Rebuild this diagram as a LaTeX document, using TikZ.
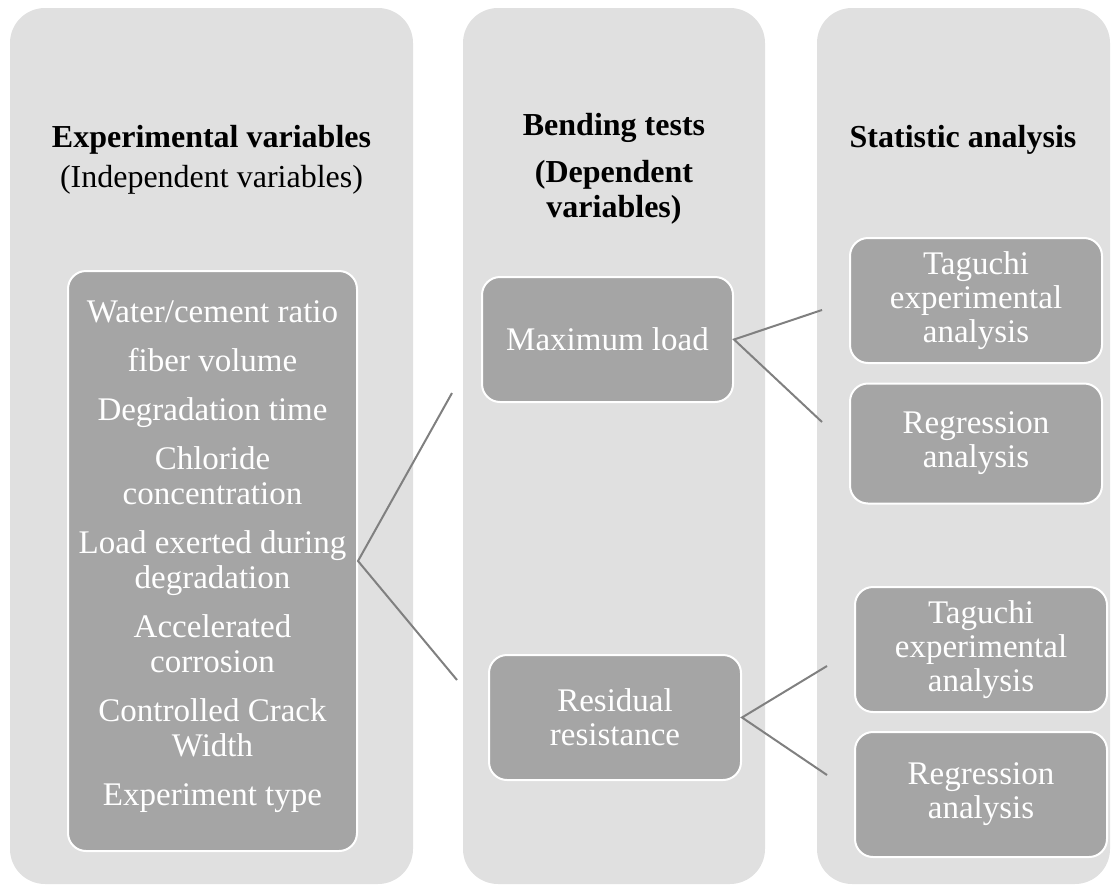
\documentclass[tikz,border=0pt]{standalone}
\usepackage{fontspec}
\setmainfont{Liberation Serif}
\definecolor{colbg}{HTML}{E0E0E0}
\definecolor{boxbg}{HTML}{A5A5A5}
\definecolor{linegray}{HTML}{808080}
\tikzset{
  col/.style={fill=colbg, draw=none, rounded corners=35pt, inner sep=0pt},
  box/.style={draw=white, line width=2pt, fill=boxbg, rounded corners=18pt, text=white,
    align=center, inner sep=0pt, font=\fontsize{33}{34}\selectfont},
  head/.style={align=center, text=black, inner sep=0pt},
  link/.style={draw=linegray, line width=2pt}
}
\begin{document}
\begin{tikzpicture}[x=1pt,y=-1pt]
\useasboundingbox (0,0) rectangle (1111,889);
% columns
\node[col, minimum width=403pt, minimum height=876pt] (c1) at (211.5,446) {};
\node[col, minimum width=302pt, minimum height=876pt] (c2) at (614,446) {};
\node[col, minimum width=293pt, minimum height=876pt] (c3) at (963.5,446) {};
% headings
\node[head, font=\fontsize{32}{40}\selectfont] (h1) at (211.5,159.5) {\textbf{Experimental variables}\\(Independent variables)};
\node[head, font=\bfseries\fontsize{32}{35}\selectfont] (h2) at (614,169) {Bending tests\\[12pt](Dependent\\variables)};
\node[head, font=\bfseries\fontsize{32}{33}\selectfont] (h3) at (963,140) {Statistic analysis};
% boxes
\node[box, minimum width=289pt, minimum height=580pt, font=\fontsize{33}{35}\selectfont] (list) at (212.5,561) {};
\node[align=center, text=white, inner sep=0pt, font=\fontsize{33}{35}\selectfont] (listtext) at (212.5,557) {Water/cement ratio\\[14pt]fiber volume\\[14pt]Degradation time\\[14pt]Chloride\\concentration\\[14pt]Load exerted during\\degradation\\[14pt]Accelerated\\corrosion\\[14pt]Controlled Crack\\Width\\[14pt]Experiment type};
\node[box, minimum width=251pt, minimum height=125pt] (maxl) at (607.5,339.5) {Maximum load};
\node[box, minimum width=252pt, minimum height=125pt] (resid) at (615,717.5) {Residual\\resistance};
\node[box, minimum width=252pt, minimum height=125pt] (t1) at (976,300.5) {Taguchi\\experimental\\analysis};
\node[box, minimum width=252pt, minimum height=120pt] (r1) at (976,443.5) {Regression\\analysis};
\node[box, minimum width=252pt, minimum height=125pt] (t2) at (981,649.5) {Taguchi\\experimental\\analysis};
\node[box, minimum width=252pt, minimum height=125pt] (r2) at (981,794.5) {Regression\\analysis};
% free ends of connectors
\coordinate (e1) at (452,393);
\coordinate (e2) at (457,680);
\coordinate (e3) at (822,310);
\coordinate (e4) at (822,422);
\coordinate (e5) at (827,666);
\coordinate (e6) at (827,775);
% connectors
\draw[link] (e1) -- (list.east) -- (e2);
\draw[link] (e3) -- (maxl.east) -- (e4);
\draw[link] (e5) -- (resid.east) -- (e6);
\end{tikzpicture}
\end{document}
